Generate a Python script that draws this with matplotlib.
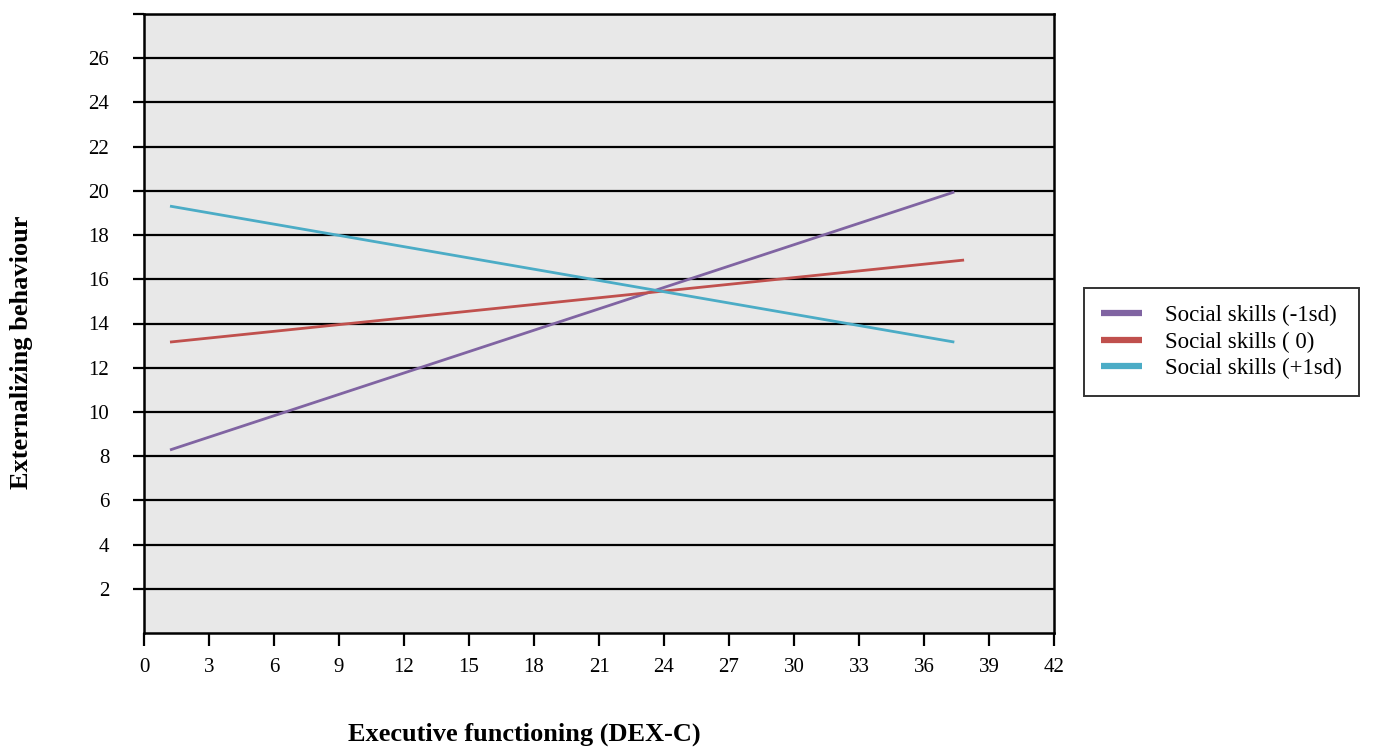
import matplotlib.pyplot as plt
import numpy as np

plt.rcParams['font.family'] = ['Liberation Serif', 'DejaVu Serif']

# data
series_labels = ['Social skills (-1sd)', 'Social skills ( 0)', 'Social skills (+1sd)']
series_colors = ['#8064A2', '#C0504D', '#4BACC6']
x_low = [1.2, 1.2, 1.2]
x_high = [37.4, 37.85, 37.4]
y_low = [8.28, 13.16, 19.31]
y_high = [19.95, 16.87, 13.16]

x_ticks = np.arange(0, 43, 3)
y_grid = np.arange(2, 29, 2)
y_tick_labels = [str(v) for v in range(2, 27, 2)] + ['']

fig = plt.figure(figsize=(13.98, 7.49), dpi=100)
ax = fig.add_axes([144 / 1398, 1 - 633 / 749, 910 / 1398, 619 / 749])
ax.set_facecolor('#e8e8e8')

for i in range(len(series_labels)):
    ax.plot([x_low[i], x_high[i]], [y_low[i], y_high[i]],
            color=series_colors[i], lw=2.0, label=series_labels[i],
            solid_capstyle='butt', zorder=3)

# horizontal grid lines at every tick
for v in y_grid:
    ax.axhline(v, color='black', lw=1.6, zorder=1)

ax.set_xlim(0, 42)
ax.set_ylim(0, 28)
ax.set_xticks(x_ticks)
ax.set_yticks(y_grid)
ax.set_yticklabels(y_tick_labels)

ax.tick_params(axis='x', direction='out', length=9, width=1.6, pad=9,
               labelsize=15)
ax.tick_params(axis='y', direction='out', length=8, width=1.6, pad=17,
               labelsize=15)

for side in ['left', 'bottom', 'right', 'top']:
    ax.spines[side].set_linewidth(1.8)
    ax.spines[side].set_color('black')

fig.text(524 / 1398, 1 - 734 / 749, 'Executive functioning (DEX-C)',
         ha='center', va='center', fontsize=19, fontweight='bold')
fig.text(22 / 1398, 1 - 352 / 749, 'Externalizing behaviour',
         ha='center', va='center', rotation=90, fontsize=19,
         fontweight='bold')

leg = ax.legend(loc='upper left', bbox_to_anchor=(1084 / 1398, 1 - 288 / 749),
                bbox_transform=fig.transFigure, frameon=True, fancybox=False,
                fontsize=16.5, handlelength=1.8, handletextpad=1.0,
                borderpad=0.75, labelspacing=0.22, borderaxespad=0)
leg.get_frame().set_edgecolor('black')
leg.get_frame().set_linewidth(1.4)
for h in leg.get_lines():
    h.set_linewidth(4.5)

fig.savefig('out.png', dpi=100)
